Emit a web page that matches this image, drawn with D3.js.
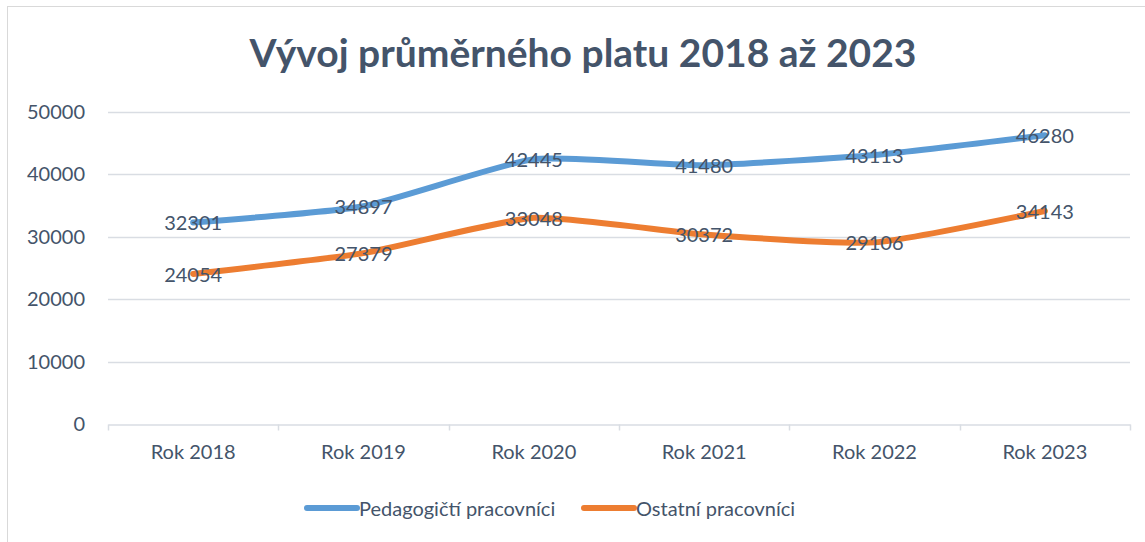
<!DOCTYPE html>
<html>
<head>
<meta charset="utf-8">
<script src="https://cdn.jsdelivr.net/npm/d3@7"></script>
<style>
  body { margin: 0; background: #fff; }
  svg text { font-family: Lato, "Open Sans", sans-serif; fill: #44546A; }
</style>
</head>
<body>
<svg id="chart"></svg>
<script>
// chart data
const years = ["Rok 2018", "Rok 2019", "Rok 2020", "Rok 2021", "Rok 2022", "Rok 2023"];
const pedagogicti = [32301, 34897, 42445, 41480, 43113, 46280];
const ostatni = [24054, 27379, 33048, 30372, 29106, 34143];
const seriesNames = ["Pedagogičtí pracovníci", "Ostatní pracovníci"];
const seriesColors = ["#5B9BD5", "#ED7D31"];
const yTicks = [0, 10000, 20000, 30000, 40000, 50000];

const width = 1145, height = 542;
const pad_left = 108, pad_right = 15, pad_top = 112, pad_bottom = 118;

const svg = d3.select("#chart").attr("width", width).attr("height", height);

// outer border
svg.append("rect")
    .attr("x", 7.5).attr("y", 6.5)
    .attr("width", width).attr("height", height)
    .attr("fill", "none").attr("stroke", "#D9D9D9").attr("stroke-width", 1);

// title
svg.append("text")
    .attr("x", 583).attr("y", 67)
    .attr("text-anchor", "middle")
    .style("font-size", "39px").style("font-weight", "bold")
    .text("Vývoj průměrného platu 2018 až 2023");

let xScale = d3.scaleBand().domain(years).range([pad_left, width - pad_right]);
let yScale = d3.scaleLinear().domain([0, 50000]).range([height - pad_bottom, pad_top]);

// gridlines
svg.append("g").selectAll("line")
    .data(yTicks.slice(1))
    .join("line")
    .attr("x1", pad_left).attr("x2", width - pad_right)
    .attr("y1", d => Math.round(yScale(d)) + 0.5).attr("y2", d => Math.round(yScale(d)) + 0.5)
    .attr("stroke", "#D9DDE3").attr("stroke-width", 1.5);

// y axis labels
let yAxis = d3.axisLeft(yScale).tickValues(yTicks).tickFormat(d3.format("d")).tickSize(0).tickPadding(23);
let yG = svg.append("g").attr("transform", `translate(${pad_left},0)`).call(yAxis);
yG.select(".domain").remove();
yG.selectAll("text").style("font-size", "20px").attr("fill", "#44546A").style("font-family", "Lato");

// x axis
let xAxis = d3.axisBottom(xScale).tickSize(0).tickPadding(20);
let xG = svg.append("g").attr("transform", `translate(0,${Math.round(yScale(0)) + 0.5})`).call(xAxis);
xG.select(".domain").attr("stroke", "#D9DDE3").attr("stroke-width", 1.5);
xG.selectAll("text").style("font-size", "20px").attr("fill", "#44546A").style("font-family", "Lato");
// category boundary ticks
xG.append("g").selectAll("line")
    .data(years.map(d => xScale(d)).concat([xScale.range()[1]]))
    .join("line")
    .attr("x1", d => Math.round(d) + 0.5).attr("x2", d => Math.round(d) + 0.5)
    .attr("y1", 0).attr("y2", 6)
    .attr("stroke", "#D9DDE3").attr("stroke-width", 1.5);

const cx = d => xScale(d) + xScale.bandwidth() / 2;
const line = d3.line()
    .x((d, i) => cx(years[i]))
    .y(d => yScale(d))
    .curve(d3.curveCardinal.tension(0.5));

[pedagogicti, ostatni].forEach((values, k) => {
    svg.append("path")
        .datum(values)
        .attr("fill", "none")
        .attr("stroke", seriesColors[k])
        .attr("stroke-width", 6)
        .attr("stroke-linecap", "round")
        .attr("stroke-linejoin", "round")
        .attr("d", line);
});

// data labels (centered on the points)
[pedagogicti, ostatni].forEach((values) => {
    svg.append("g").selectAll("text")
        .data(values)
        .join("text")
        .attr("x", (d, i) => cx(years[i]))
        .attr("y", d => yScale(d))
        .attr("text-anchor", "middle")
        .attr("dominant-baseline", "central")
        .style("font-size", "20px")
        .text(d => d);
});

// legend
const legendItems = [
    { x: 307, name: seriesNames[0], color: seriesColors[0] },
    { x: 584, name: seriesNames[1], color: seriesColors[1] }
];
let lg = svg.append("g").selectAll("g").data(legendItems).join("g")
    .attr("transform", d => `translate(${d.x},508)`);
lg.append("line")
    .attr("x1", 0).attr("x2", 50)
    .attr("stroke", d => d.color).attr("stroke-width", 6).attr("stroke-linecap", "round");
lg.append("text")
    .attr("x", 52).attr("y", 0)
    .attr("dominant-baseline", "central")
    .style("font-size", "20px")
    .text(d => d.name);
</script>
</body>
</html>
